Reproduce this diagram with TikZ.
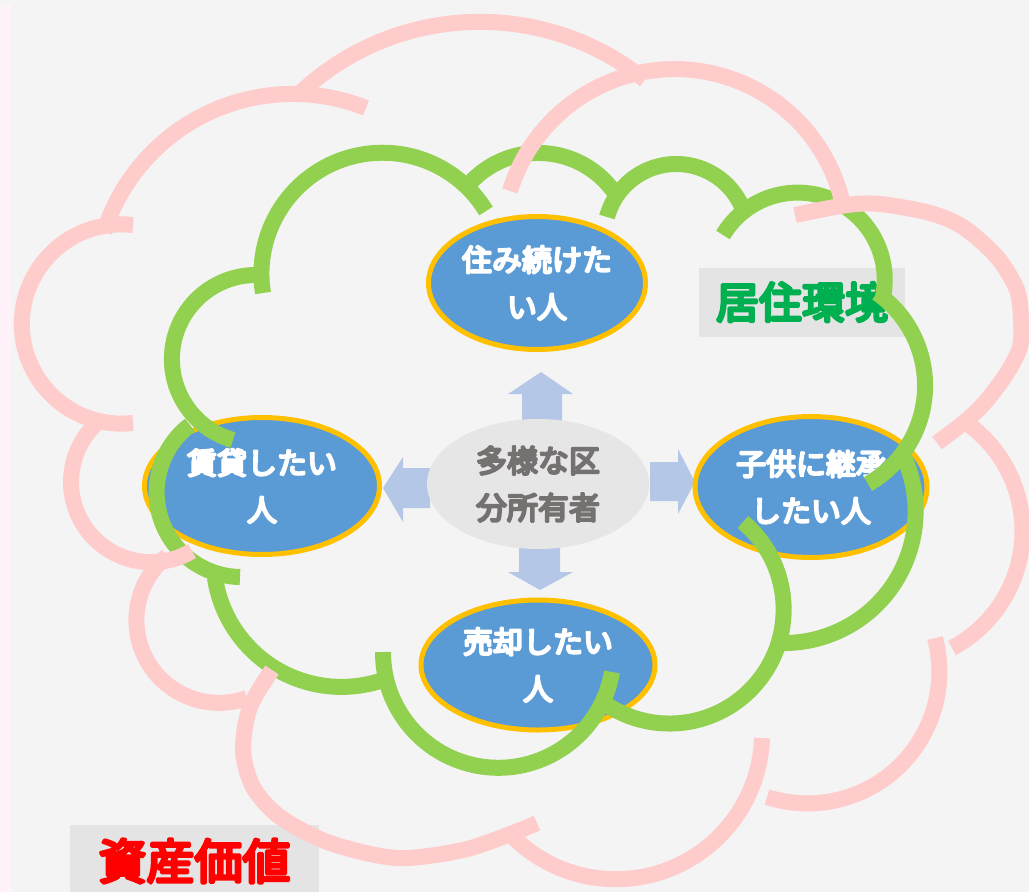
\documentclass[tikz,border=0pt]{standalone}
\usepackage{fontspec}
\newfontfamily\jp{Noto Sans CJK JP}
\usetikzlibrary{shapes.geometric}
\definecolor{bg}{HTML}{F4F4F4}
\definecolor{strip}{HTML}{FFF2FB}
\definecolor{cpink}{HTML}{FFCCCC}
\definecolor{cgreen}{HTML}{92D050}
\definecolor{pblue}{HTML}{5B9BD5}
\definecolor{borange}{HTML}{FFC000}
\definecolor{cgray}{HTML}{E6E6E6}
\definecolor{tgray}{HTML}{767171}
\definecolor{arr}{HTML}{B4C7E7}
\definecolor{lbox}{HTML}{E4E4E4}
\definecolor{lgreen}{HTML}{00B050}
\definecolor{lred}{HTML}{FF0000}
% heavy text: fill and stroke the glyphs
\newcommand\heavy[2]{\special{pdf:literal direct 2 Tr #1 w 1 j}#2\special{pdf:literal direct 0 Tr}}
% circular arc from point A through B to C (picture coordinates)
\newcommand\cloudarc[7]{%
  \pgfmathsetmacro\tpbx{(#4-#2)/100}%
  \pgfmathsetmacro\tpby{(#5-#3)/100}%
  \pgfmathsetmacro\tpcx{(#6-#2)/100}%
  \pgfmathsetmacro\tpcy{(#7-#3)/100}%
  \pgfmathsetmacro\tpD{2*(\tpbx*\tpcy-\tpby*\tpcx)}%
  \pgfmathsetmacro\tpSB{\tpbx*\tpbx+\tpby*\tpby}%
  \pgfmathsetmacro\tpSC{\tpcx*\tpcx+\tpcy*\tpcy}%
  \pgfmathsetmacro\tpux{(\tpcy*\tpSB-\tpby*\tpSC)/\tpD}%
  \pgfmathsetmacro\tpuy{(\tpbx*\tpSC-\tpcx*\tpSB)/\tpD}%
  \pgfmathsetmacro\tpR{100*veclen(\tpux,\tpuy)}%
  \pgfmathsetmacro\tpa{atan2(-\tpuy,-\tpux)}%
  \pgfmathsetmacro\tpb{atan2(\tpby-\tpuy,\tpbx-\tpux)}%
  \pgfmathsetmacro\tpc{atan2(\tpcy-\tpuy,\tpcx-\tpux)}%
  \pgfmathsetmacro\tpdb{Mod(\tpb-\tpa,360)}%
  \pgfmathsetmacro\tpdc{Mod(\tpc-\tpa,360)}%
  \pgfmathsetmacro\tpe{\tpdb<\tpdc ? \tpa+\tpdc : \tpa-360+\tpdc}%
  \draw[#1] (#2,#3) arc[start angle=\tpa, end angle=\tpe, radius=\tpR];%
}
\begin{document}
\begin{tikzpicture}[x=1pt,y=-1pt,
  person/.style={ellipse, draw=borange, line width=5pt, fill=pblue, text=white,
    font=\jp\fontsize{30}{47}\selectfont, align=center, inner sep=0pt},
  owner/.style={ellipse, fill=cgray, text=tgray,
    font=\jp\fontsize{31}{47}\selectfont, align=center, inner sep=0pt},
  blockarrow/.style={fill=arr},
  pinkline/.style={draw=cpink, line width=16pt},
  greenline/.style={draw=cgreen, line width=16pt},
  labelbox/.style={fill=lbox, inner sep=0pt}
]
\useasboundingbox (0,0) rectangle (1029,892);
\fill[bg] (0,0) rectangle (1029,892);
\fill[strip] (0,5) rectangle (11,892);

% labels
\node[labelbox, minimum width=206pt, minimum height=69pt, text=lgreen,
  font=\jp\fontsize{43}{50}\selectfont] (env) at (802,302) {\heavy{3}{居住環境}};
\node[labelbox, minimum width=249pt, minimum height=72pt, text=lred,
  font=\jp\fontsize{48}{55}\selectfont] (asset) at (194.5,861) {\heavy{3.2}{資産価値}};

% block arrows
\fill[blockarrow] (522,422) -- (522,394) -- (508,394) -- (541,372) -- (573,394) -- (562,394) -- (562,422) -- cycle;
\fill[blockarrow] (519,548) -- (560,548) -- (560,572) -- (573,572) -- (540,590) -- (508,572) -- (519,572) -- cycle;
\fill[blockarrow] (430,468) -- (403,468) -- (403,457) -- (383,488) -- (403,522) -- (403,508) -- (430,508) -- cycle;
\fill[blockarrow] (650,462) -- (678,462) -- (678,449) -- (695,482) -- (678,514) -- (678,501) -- (650,501) -- cycle;

% people
\node[owner, minimum width=222pt, minimum height=130pt] (own) at (538,484) {\heavy{2.2}{多様な区}\\\heavy{2.2}{分所有者}};
\node[person, minimum width=217pt, minimum height=133pt] (live) at (537,283) {\heavy{2.2}{住み続けた}\\\heavy{2.2}{い人}};
\node[person, minimum width=235pt, minimum height=137pt] (rent) at (262,486) {\heavy{2.2}{賃貸したい}\\\heavy{2.2}{人}};
\node[person, minimum width=232pt, minimum height=141pt] (heir) at (811,487) {\heavy{2.2}{子供に継承}\\\heavy{2.2}{したい人}};
\node[person, minimum width=234pt, minimum height=130pt] (sell) at (538,665) {\heavy{2.2}{売却したい}\\\heavy{2.2}{人}};

% green cloud
\cloudarc{greenline}{263}{293}{344}{159}{486}{211}
\cloudarc{greenline}{470}{183}{535}{153}{618}{198}
\cloudarc{greenline}{607}{217}{677}{164}{745}{215}
\cloudarc{greenline}{723}{235}{825}{197}{883}{297}
\cloudarc{greenline}{877}{293}{925}{390}{868}{484}
\cloudarc{greenline}{903}{455}{893}{585}{780}{643}
\cloudarc{greenline}{743}{522}{755}{685}{600}{700}
\cloudarc{greenline}{612}{672}{485}{767}{383}{652}
\cloudarc{greenline}{215}{578}{273}{667}{383}{680}
\cloudarc{greenline}{190}{425}{157}{500}{240}{577}
\cloudarc{greenline}{257}{275}{172}{355}{233}{440}

% pink cloud
\cloudarc{pinkline}{366}{108}{200}{117}{104}{232}
\cloudarc{pinkline}{133}{225}{22}{330}{133}{423}
\cloudarc{pinkline}{97}{423}{87}{530}{192}{551}
\cloudarc{pinkline}{167}{556}{142}{650}{247}{698}
\draw[pinkline] plot[smooth] coordinates {(272,670) (250,707) (243,750) (253,787) (280,817) (330,843) (397,858) (463,850) (513,833) (537,823)};
\cloudarc{pinkline}{762}{738}{672}{868}{512}{836}
\cloudarc{pinkline}{935}{638}{912}{752}{767}{797}
\cloudarc{pinkline}{965}{422}{1022}{520}{952}{648}
\draw[pinkline] plot[smooth] coordinates {(795,215) (847,205) (880,204) (930,213) (963,227) (997,257) (1017,290) (1021,320) (1020,347) (1007,373) (987,400) (967,420) (937,443)};
\cloudarc{pinkline}{510}{191}{700}{71}{843}{205}
\cloudarc{pinkline}{298}{95}{470}{22}{645}{80}
\end{tikzpicture}
\end{document}
